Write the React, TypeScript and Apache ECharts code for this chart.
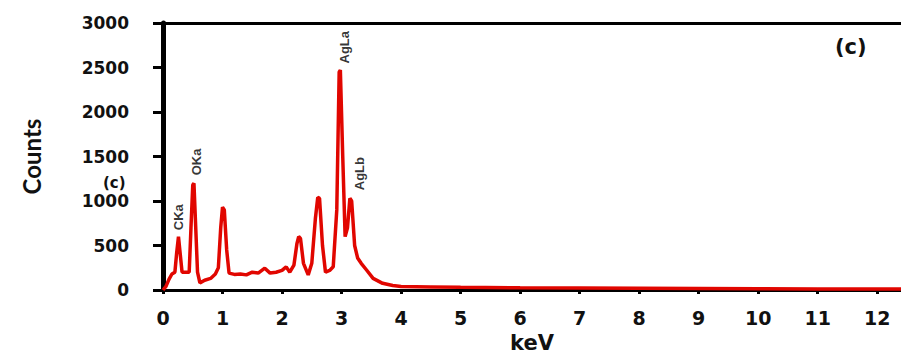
import { useEffect, useRef } from "react";
import * as echarts from "echarts";

// EDS spectrum (c): energy (keV) vs counts
const keV = [
  0, 0.05, 0.1, 0.15, 0.2, 0.23, 0.26, 0.29, 0.32, 0.37, 0.44, 0.47, 0.5, 0.52, 0.55, 0.58, 0.62,
  0.7, 0.8, 0.88, 0.93, 0.97, 1.0, 1.03, 1.07, 1.11, 1.2, 1.3, 1.4, 1.5, 1.6, 1.71, 1.8, 1.9,
  2.0, 2.07, 2.13, 2.2, 2.25, 2.28, 2.31, 2.36, 2.44, 2.5, 2.56, 2.6, 2.63, 2.68, 2.73, 2.8,
  2.86, 2.92, 2.96, 2.98, 3.02, 3.06, 3.1, 3.14, 3.17, 3.22, 3.27, 3.33, 3.42, 3.53, 3.69, 3.86,
  4.0, 4.5, 5, 6, 7, 8, 9, 10, 11, 12, 12.4,
];
const counts = [
  0, 40, 120, 180, 200, 420, 600, 400, 200, 200, 200, 700, 1180, 1200, 700, 200, 80,
  110, 130, 180, 250, 700, 930, 900, 450, 190, 175, 180, 170, 200, 190, 245, 190, 200,
  220, 260, 200, 280, 520, 600, 580, 300, 170, 300, 800, 1040, 1030, 500, 200, 220,
  260, 900, 2450, 2470, 1500, 600, 700, 1030, 1000, 500, 360, 300, 225, 130, 75, 50,
  40, 35, 30, 25, 22, 20, 17, 14, 12, 10, 10,
];

// Peak annotations (label anchor in data space)
const peakNames = ["CKa", "OKa", "AgLa", "AgLb"];
const peakLabelKeV = [0.26, 0.57, 3.05, 3.31];
const peakLabelCounts = [672, 1289, 2545, 1121];

const xTickLabels = ["0", "1", "2", "3", "4", "5", "6", "7", "8", "9", "10", "11", "12"];

const TICK_FONT = "DejaVu Sans, Verdana, sans-serif";

export default function App() {
  const ref = useRef<HTMLDivElement>(null);
  useEffect(() => {
    const chart = echarts.init(ref.current!, null, { renderer: "svg" });
    chart.setOption({
      animation: false,
      backgroundColor: "#ffffff",
      grid: { left: 163, right: 0, top: 23, bottom: 66, outerBoundsMode: "none", containLabel: false },
      xAxis: [
        {
          type: "value",
          min: 0,
          max: 12.4,
          interval: 1,
          name: "keV",
          nameLocation: "middle",
          nameGap: 42,
          nameTextStyle: { fontFamily: TICK_FONT, fontWeight: "bold", fontSize: 21, color: "#111" },
          axisLine: { show: true, onZero: false, lineStyle: { color: "#000", width: 3 } },
          axisTick: { show: true, inside: false, length: 4, lineStyle: { color: "#000", width: 3 } },
          axisLabel: {
            margin: 18,
            fontFamily: TICK_FONT,
            fontWeight: "bold",
            fontSize: 19,
            color: "#111",
            showMaxLabel: false,
            formatter: (v: number) => (Number.isInteger(v) ? xTickLabels[v] ?? "" : ""),
          },
          splitLine: { show: false },
        },
        {
          type: "value",
          position: "top",
          min: 0,
          max: 12.4,
          axisLine: { show: true, onZero: false, lineStyle: { color: "#000", width: 3 } },
          axisTick: { show: false },
          axisLabel: { show: false },
          splitLine: { show: false },
        },
      ],
      yAxis: {
        type: "value",
        min: 0,
        max: 3000,
        interval: 500,
        name: "Counts",
        nameLocation: "middle",
        nameRotate: 90,
        nameGap: 120,
        nameTextStyle: { fontFamily: "Lato, sans-serif", fontWeight: "bold", fontSize: 24, color: "#111" },
        axisLine: { show: true, onZero: false, lineStyle: { color: "#000", width: 5 } },
        axisTick: { show: true, inside: false, length: 10, lineStyle: { color: "#000", width: 3 } },
        axisLabel: {
          margin: 34,
          fontFamily: TICK_FONT,
          fontWeight: "bold",
          fontSize: 17,
          color: "#111",
          formatter: (v: number) => String(v),
        },
        splitLine: { show: false },
      },
      series: [
        {
          type: "line",
          xAxisIndex: 0,
          data: keV.map((k, i) => [k, counts[i]]),
          showSymbol: false,
          symbol: "none",
          lineStyle: { color: "#e10600", width: 3.5 },
          z: 3,
        },
        {
          type: "scatter",
          xAxisIndex: 0,
          data: peakLabelKeV.map((k, i) => [k, peakLabelCounts[i]]),
          symbolSize: 1,
          itemStyle: { color: "rgba(0,0,0,0)" },
          label: {
            show: true,
            position: "inside",
            rotate: 90,
            align: "left",
            verticalAlign: "middle",
            formatter: (p: any) => peakNames[p.dataIndex],
            fontFamily: "Liberation Sans, Arial, sans-serif",
            fontWeight: "bold",
            fontSize: 13,
            color: "#000",
          },
          z: 4,
        },
      ],
      graphic: [
        {
          type: "text",
          left: 835,
          top: 36,
          style: { text: "(c)", fontFamily: TICK_FONT, fontWeight: "bold", fontSize: 21, fill: "#111" },
        },
        {
          type: "text",
          left: 103,
          top: 175,
          style: { text: "(c)", fontFamily: TICK_FONT, fontWeight: "bold", fontSize: 15, fill: "#111" },
        },
      ],
    });
    return () => chart.dispose();
  }, []);
  return (
    <div
      ref={ref}
      style={{ position: "fixed", left: 0, top: 0, width: 901, height: 356, background: "#fff" }}
    />
  );
}
